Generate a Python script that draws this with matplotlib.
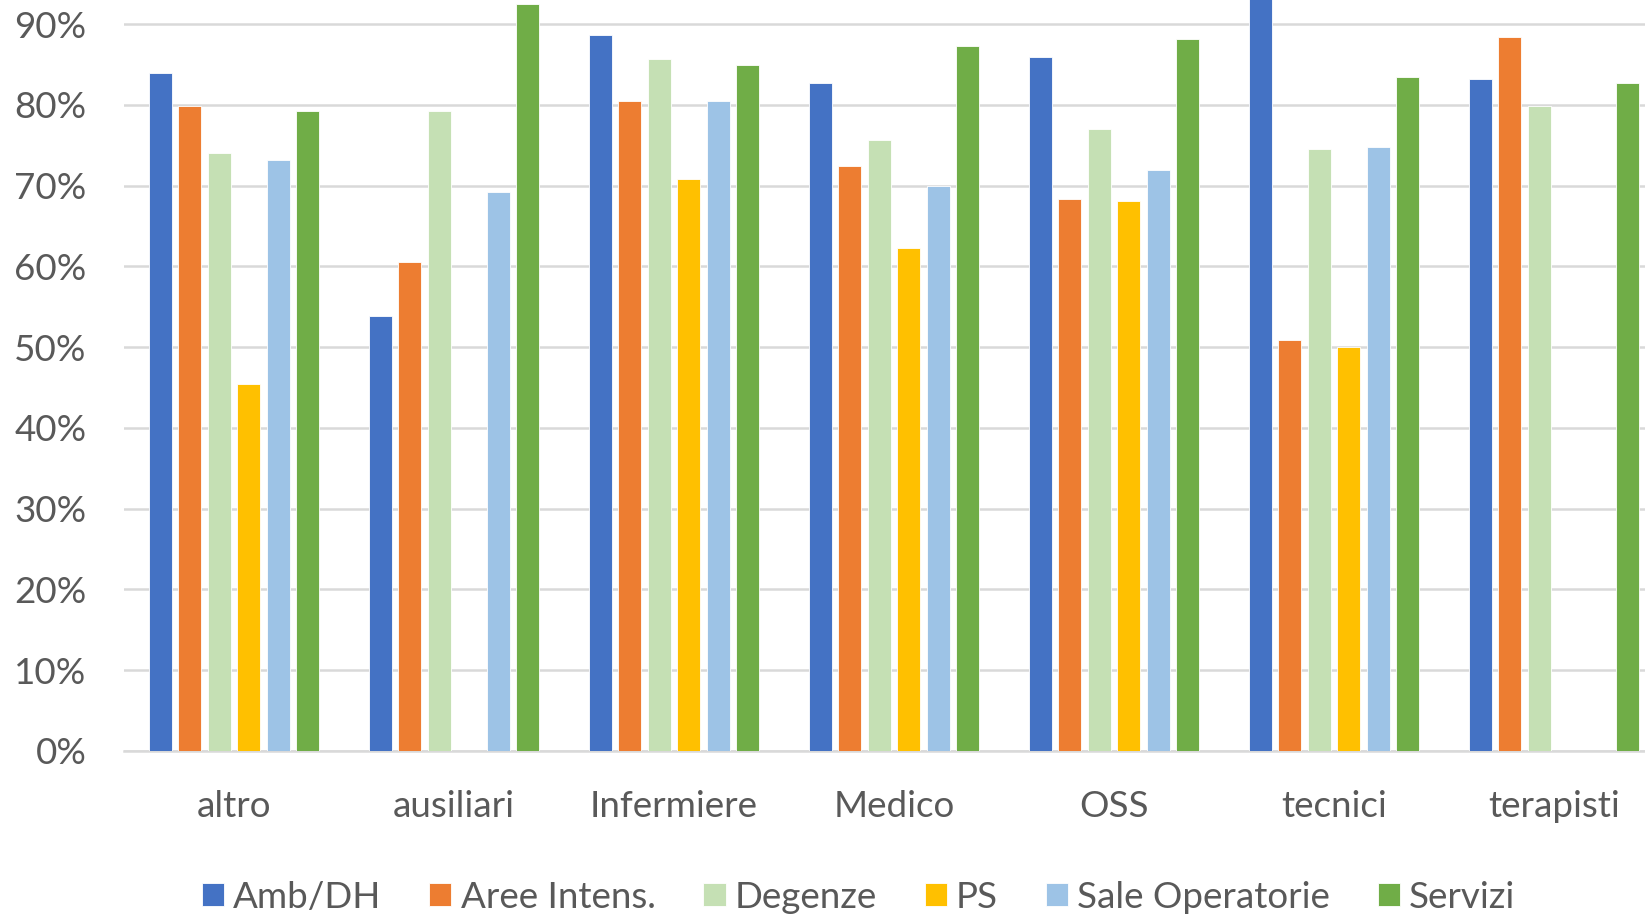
import matplotlib
matplotlib.use("Agg")
import matplotlib.pyplot as plt
import numpy as np

categories = ["altro", "ausiliari", "Infermiere", "Medico", "OSS", "tecnici", "terapisti"]
series_names = ["Amb/DH", "Aree Intens.", "Degenze", "PS", "Sale Operatorie", "Servizi"]
amb_dh   = [0.840, 0.539, 0.887, 0.827, 0.860, 1.000, 0.832]
aree_int = [0.799, 0.606, 0.805, 0.725, 0.684, 0.509, 0.884]
degenze  = [0.740, 0.792, 0.857, 0.757, 0.770, 0.745, 0.799]
ps       = [0.455, np.nan, 0.708, 0.623, 0.681, 0.500, np.nan]
sale_op  = [0.732, 0.692, 0.805, 0.700, 0.719, 0.748, np.nan]
servizi  = [0.792, 0.925, 0.849, 0.873, 0.882, 0.835, 0.827]
yticks = [0.0, 0.1, 0.2, 0.3, 0.4, 0.5, 0.6, 0.7, 0.8, 0.9]

colors = ["#4472C4", "#ED7D31", "#C5E0B4", "#FFC000", "#9DC3E6", "#70AD47"]
all_series = [amb_dh, aree_int, degenze, ps, sale_op, servizi]

plt.rcParams['font.family'] = ['Lato', 'DejaVu Sans']
FS = 26.5

fig = plt.figure(figsize=(16.45, 9.15), dpi=100)
ax = fig.add_axes([124/1645, (915-751)/915, 1540/1645, 751/915])

x = np.arange(len(categories))
pitch = 0.1335
bw = 0.105
for i, (vals, col, name) in enumerate(zip(all_series, colors, series_names)):
    offs = (i - 2.5) * pitch
    v = np.nan_to_num(np.array(vals, dtype=float), nan=0.0)
    ax.bar(x + offs, v, width=bw, color=col, label=name, zorder=3,
           edgecolor="white", linewidth=0.6)

ax.set_xlim(-0.5, len(categories) - 0.5)
ax.set_ylim(0, 0.93)
ax.set_yticks(yticks)
ax.set_yticklabels([f"{int(round(t*100))}%" for t in yticks])
ax.set_xticks(x)
ax.set_xticklabels(categories)
ax.yaxis.grid(True, color="#D9D9D9", linewidth=1.8, zorder=0)
ax.set_axisbelow(True)
for s in ["top", "right", "left"]:
    ax.spines[s].set_visible(False)
ax.spines["bottom"].set_color("#D9D9D9")
ax.spines["bottom"].set_linewidth(1.8)
ax.tick_params(axis="both", length=0, labelsize=FS, colors="#595959")
ax.tick_params(axis="y", pad=27)
ax.tick_params(axis="x", pad=28)

handles, labels = ax.get_legend_handles_labels()
leg = fig.legend(handles, labels, loc="center", bbox_to_anchor=(0.522, 1 - 897/915),
                 ncol=6, frameon=False, fontsize=FS, handlelength=0.6, handleheight=0.6,
                 handletextpad=0.25, columnspacing=1.3)
for t in leg.get_texts():
    t.set_color("#595959")

fig.savefig("out.png", dpi=100)
